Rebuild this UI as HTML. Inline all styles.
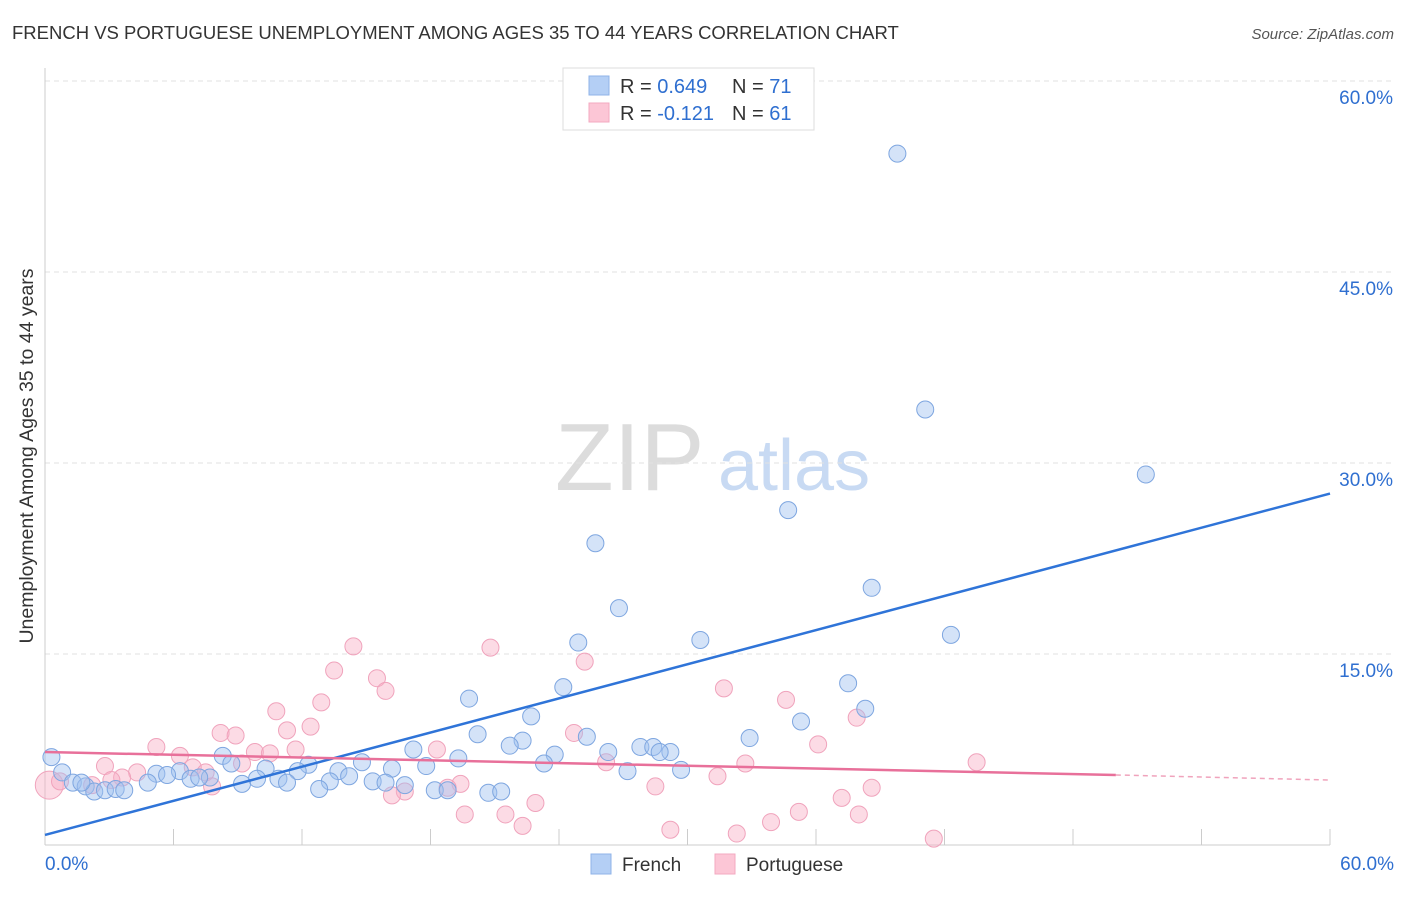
<!DOCTYPE html>
<html><head><meta charset="utf-8"><style>
body{margin:0;background:#fff;font-family:"Liberation Sans",sans-serif;}
svg text{font-family:"Liberation Sans",sans-serif;}
</style></head><body>
<svg id="chart" width="1406" height="892" xmlns="http://www.w3.org/2000/svg">
<text x="12" y="39" font-size="18.5" fill="#333">FRENCH VS PORTUGUESE UNEMPLOYMENT AMONG AGES 35 TO 44 YEARS CORRELATION CHART</text>
<text x="1394" y="39" font-size="15" fill="#555" font-style="italic" text-anchor="end">Source: ZipAtlas.com</text>
<text transform="translate(33,456) rotate(-90)" font-size="19.5" fill="#333" text-anchor="middle">Unemployment Among Ages 35 to 44 years</text>
<g>
<text x="555" y="490" font-size="96" fill="#dcdcdc" font-family="Liberation Serif, serif">ZIP</text>
<text x="718" y="490" font-size="72" fill="#c8daf3">atlas</text>
</g>
<g id="grid"></g><g id="pts"></g><g id="lines"></g>
<g>
<rect x="563" y="68" width="251" height="62" fill="#fff" stroke="#ddd"/>
<rect x="589" y="76" width="20" height="19" fill="#b4cff5" stroke="#8fb3e8"/>
<rect x="589" y="103" width="20" height="19" fill="#fcc6d6" stroke="#f3a9c0"/>
<text x="620" y="93" font-size="20" fill="#333">R = <tspan fill="#2f6fd0">0.649</tspan><tspan x="732">N = </tspan><tspan fill="#2f6fd0">71</tspan></text>
<text x="620" y="120" font-size="20" fill="#333">R = <tspan fill="#2f6fd0">-0.121</tspan><tspan x="732">N = </tspan><tspan fill="#2f6fd0">61</tspan></text>
</g>
<g>
<rect x="591" y="854" width="20" height="20" fill="#b4cff5" stroke="#8fb3e8"/>
<text x="622" y="871" font-size="19" fill="#333">French</text>
<rect x="715" y="854" width="20" height="20" fill="#fcc6d6" stroke="#f3a9c0"/>
<text x="746" y="871" font-size="19" fill="#333">Portuguese</text>
</g>
</svg>
<script>
const yTicks=[15,30,45,60];
const yTickLabels=["15.0%","30.0%","45.0%","60.0%"];
const xTicks=[0,6,12,18,24,30,36,42,48,54,60];
const frenchX=[39.8,41.1,51.4,34.7,25.7,38.6,26.8,42.3,30.6,24.9,37.5,24.2,19.8,38.3,22.7,35.3,20.2,25.3,32.9,22.3,21.7,17.2,27.8,28.4,26.3,29.2,28.7,23.8,8.3,19.3,8.7,23.3,14.8,17.8,12.3,10.3,16.2,27.2,29.7,11.8,13.7,6.3,5.2,5.7,14.2,7.7,6.8,9.9,10.9,7.2,13.3,15.3,15.9,9.2,11.3,16.8,4.8,0.8,0.3,1.3,1.9,2.3,2.8,3.3,3.7,12.8,18.2,18.8,20.7,21.3,1.7];
const frenchY=[54.3,34.2,29.1,26.3,23.7,20.2,18.6,16.5,16.1,15.9,12.7,12.4,11.5,10.7,10.1,9.7,8.7,8.5,8.4,8.2,7.8,7.5,7.7,7.7,7.3,7.3,7.3,7.1,7.0,6.8,6.4,6.4,6.5,6.2,6.3,6.0,6.0,5.8,5.9,5.8,5.8,5.8,5.6,5.5,5.4,5.3,5.2,5.2,5.2,5.3,5.0,5.0,4.9,4.8,4.9,4.7,4.9,5.7,6.9,4.9,4.6,4.2,4.3,4.4,4.3,4.4,4.3,4.3,4.1,4.2,4.9];
const portX=[0.2,14.4,20.8,25.2,13.5,15.5,15.9,31.7,34.6,12.9,10.8,37.9,12.4,11.3,8.2,8.9,24.7,36.1,5.2,11.7,18.3,9.8,10.5,6.3,9.2,26.2,32.7,43.5,2.8,6.9,7.5,4.3,3.6,3.1,31.4,0.7,2.2,7.8,19.4,18.8,28.5,38.6,16.8,16.2,37.2,22.9,35.2,19.6,21.5,38.0,33.9,22.3,29.2,32.3,41.5];
const portY=[4.7,15.6,15.5,14.4,13.7,13.1,12.1,12.3,11.4,11.2,10.5,10.0,9.3,9.0,8.8,8.6,8.8,7.9,7.7,7.5,7.5,7.3,7.2,7.0,6.4,6.5,6.4,6.5,6.2,6.1,5.7,5.7,5.3,5.1,5.4,5.0,4.7,4.6,4.8,4.5,4.6,4.5,4.2,3.9,3.7,3.3,2.6,2.4,2.4,2.4,1.8,1.5,1.2,0.9,0.5];
const frenchTrend=[0.79,27.6];
const portTrend=[7.3,5.5,5.1];
const X=v=>45+v*1285/60, Y=v=>845-v*191/15;
const NS="http://www.w3.org/2000/svg";
function mk(p,t,a){const e=document.createElementNS(NS,t);for(const k in a)e.setAttribute(k,a[k]);p.appendChild(e);return e;}
const g=document.getElementById('grid');
yTicks.forEach((v,i)=>{
 const l=mk(g,'line',{x1:45,x2:1394,y1:Y(v),y2:Y(v),stroke:'#e2e2e2','stroke-dasharray':'5,4'});
 
 
 const t=mk(g,'text',{x:1393,y:Y(v)+23,'font-size':19,fill:'#2f6fd0','text-anchor':'end'});t.textContent=yTickLabels[i];
 
 
});
const ax=mk(g,'line',{x1:45,x2:1330,y1:845,y2:845,stroke:'#ccc'});


const ay=mk(g,'line',{x1:45,x2:45,y1:68,y2:845,stroke:'#ccc'});


xTicks.forEach(v=>{const l=mk(g,'line',{x1:X(v),x2:X(v),y1:829,y2:845,stroke:'#ccc'});
 
 });
[[0,'0.0%','start',45],[60,'60.0%','end',1394]].forEach(d=>{const t=mk(g,'text',{x:d[3],y:870,'font-size':19,fill:'#2f6fd0','text-anchor':d[2]});t.textContent=d[1];
 
 });
const p=document.getElementById('pts');
portX.forEach((v,i)=>{const c=mk(p,'circle',{cx:X(v),cy:Y(portY[i]),r:i==0?14:8.5,fill:'rgba(248,175,198,0.45)',stroke:'#f0a3bc','stroke-width':1});
 
 });
frenchX.forEach((v,i)=>{const c=mk(p,'circle',{cx:X(v),cy:Y(frenchY[i]),r:8.5,fill:'rgba(160,192,240,0.45)',stroke:'#7ea6e0','stroke-width':1});
 
 });
const L=document.getElementById('lines');
const bl=mk(L,'line',{x1:X(0),y1:Y(frenchTrend[0]),x2:X(60),y2:Y(frenchTrend[1]),stroke:'#2f74d8','stroke-width':2.5});


const pl=mk(L,'line',{x1:X(0),y1:Y(portTrend[0]),x2:X(50),y2:Y(portTrend[1]),stroke:'#e8709a','stroke-width':2.5});


const pd=mk(L,'line',{x1:X(50),y1:Y(portTrend[1]),x2:X(60),y2:Y(portTrend[2]),stroke:'#f0a3bc','stroke-width':1.5,'stroke-dasharray':'5,4'});


</script>
</body></html>
